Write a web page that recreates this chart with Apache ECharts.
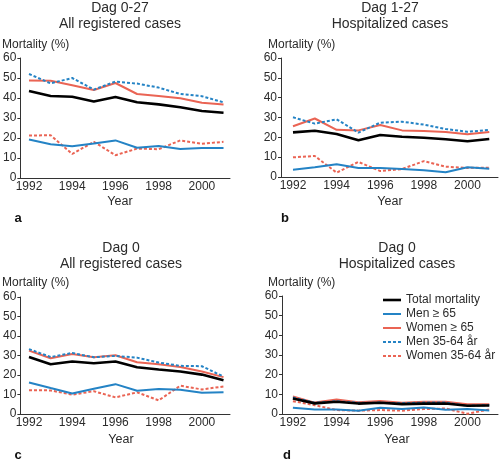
<!DOCTYPE html>
<html><head><meta charset="utf-8">
<script src="https://cdn.jsdelivr.net/npm/echarts@6/dist/echarts.min.js"></script>
<style>html,body{margin:0;padding:0;background:#fff}#c{width:500px;height:462px}</style>
</head><body><div id="c"></div>
<script>
const years = [1992,1993,1994,1995,1996,1997,1998,1999,2000,2001];
const xTickLabels = [1992,1994,1996,1998,2000];
const yTicks = [0,10,20,30,40,50,60];
const seriesNames = ['Total mortality','Men \u2265 65','Women \u2265 65','Men 35-64 år','Women 35-64 år'];
const panelTitles = [['Dag 0-27','All registered cases'],['Dag 1-27','Hospitalized cases'],['Dag 0','All registered cases'],['Dag 0','Hospitalized cases']];
const panelLetters = ['a','b','c','d'];

// Panel a: Dag 0-27, all registered cases
const aTotal = [43.5,41,40.6,38.3,40.5,37.9,36.8,35.4,33.5,32.6];
const aMen65 = [19.3,16.9,15.9,17.2,18.8,15.1,16.0,14.5,15.0,15.0];
const aWomen65 = [48.7,48.6,46.4,44.0,47.5,42.0,41.0,39.9,37.6,36.8];
const aMen3564 = [52.0,47.3,50.0,44.2,48.2,47.2,45.2,42.0,40.9,37.8];
const aWomen3564 = [21.2,21.4,12.0,18.1,11.4,14.7,14.4,18.8,17.1,18.1];

// Panel b: Dag 1-27, hospitalized cases
const bTotal = [22.5,23.3,21.7,18.5,21.2,20.3,19.8,19.0,18.0,19.2];
const bMen65 = [3.7,4.9,6.4,4.5,4.5,4.0,3.4,2.4,4.9,4.1];
const bWomen65 = [25.6,29.5,23.8,23.5,26.2,23.5,23.2,22.7,21.5,22.7];
const bMen3564 = [30.1,26.9,29.1,22.4,27.4,27.9,26.4,24.2,22.8,23.7];
const bWomen3564 = [9.9,10.6,2.2,7.6,3.0,4.0,8.0,5.2,4.6,4.7];

// Panel c: Dag 0, all registered cases
const cTotal = [29.2,25.5,26.9,26.0,26.9,24.0,22.8,21.8,20.2,17.3];
const cMen65 = [16.2,13.3,10.5,12.9,15.3,11.9,12.8,12.4,10.9,11.2];
const cWomen65 = [32.5,28.6,30.8,29.1,30.1,26.5,25.5,24.1,21.8,18.9];
const cMen3564 = [33.3,29.2,31.3,29.1,29.8,28.9,26.4,24.7,24.5,19.2];
const cWomen3564 = [12.2,12.1,9.9,11.7,8.5,11.1,7.0,14.5,12.6,14.1];

// Panel d: Dag 0, hospitalized cases
const dTotal = [7.9,5.4,6.2,5.3,5.7,5.0,5.3,5.3,4.2,4.3];
const dMen65 = [3.2,2.3,2.3,1.7,3.2,2.5,3.3,2.2,2.5,1.8];
const dWomen65 = [8.9,5.8,7.4,6.0,6.6,5.7,6.2,6.2,4.9,4.9];
const dMen3564 = [8.4,5.7,6.5,5.7,5.8,5.5,5.8,5.8,4.2,4.5];
const dWomen3564 = [6.5,4.5,2.0,1.7,2.0,1.7,2.5,2.8,0.1,2.3];

const panels = [
  [aTotal,aMen65,aWomen65,aMen3564,aWomen3564],
  [bTotal,bMen65,bWomen65,bMen3564,bWomen3564],
  [cTotal,cMen65,cWomen65,cMen3564,cWomen3564],
  [dTotal,dMen65,dWomen65,dMen3564,dWomen3564]
];

const FONT = "'Liberation Sans', Arial, sans-serif";
const TXT = '#2b2b2b';
const BLUE = '#2483c5';
const RED = '#ea6454';
const styles = [
  {color:'#000', type:'solid', width:2.6, z:5},
  {color:BLUE, type:'solid', width:2, z:3},
  {color:RED, type:'solid', width:2, z:3},
  {color:BLUE, type:[3,2], width:2, z:4},
  {color:RED, type:[3,2], width:2, z:2}
];

const geo = [
  {left:16, top:58, w:214, h:120, xmin:1991.6, xmax:2001.3, cx:120, ty:8, my:45, yy:202, ly:218, lx:18, mx:2},
  {left:281, top:58, w:217, h:119, xmin:1991.45, xmax:2001.4, cx:390, ty:8, my:45, yy:202, ly:218, lx:285, mx:268},
  {left:15, top:297, w:215, h:117, xmin:1991.6, xmax:2001.3, cx:121, ty:248, my:283, yy:440, ly:455, lx:18, mx:2},
  {left:282, top:296, w:216, h:118, xmin:1991.5, xmax:2001.4, cx:397, ty:248, my:283, yy:440, ly:455, lx:287, mx:268}
];

const grid = [], xAxis = [], yAxis = [], series = [], graphic = [];
geo.forEach((g,i)=>{
  grid.push({left:g.left, top:g.top, width:g.w, height:g.h, containLabel:false});
  xAxis.push({type:'value', gridIndex:i, min:g.xmin, max:g.xmax,
    axisLine:{show:true, lineStyle:{color:'#333', width:1}},
    axisTick:{show:false},
    splitLine:{show:false},
    axisLabel:{customValues:xTickLabels, color:TXT, fontFamily:FONT, fontSize:12, margin:3, formatter:v=>String(v)}
  });
  yAxis.push({type:'value', gridIndex:i, min:0, max:60, interval:10,
    axisLine:{show:true, lineStyle:{color:'#333', width:1}},
    axisTick:{show:true, length:3, lineStyle:{color:'#333'}},
    splitLine:{show:false},
    axisLabel:{color:TXT, fontFamily:FONT, fontSize:12, margin:4}
  });
  const order = [4,1,2,3,0];
  order.forEach(k=>{
    const s = styles[k];
    series.push({type:'line', name:seriesNames[k], xAxisIndex:i, yAxisIndex:i,
      data: years.map((y,j)=>[y, panels[i][k][j]]),
      symbol:'none', z:s.z, silent:true,
      lineStyle:{color:s.color, width:s.width, type:s.type},
      itemStyle:{color:s.color}
    });
  });
  graphic.push({type:'text', x:g.cx, y:g.ty, style:{text:panelTitles[i][0], fill:TXT, font:'14px '+FONT, textAlign:'center', textVerticalAlign:'middle'}});
  graphic.push({type:'text', x:g.cx, y:g.ty+16, style:{text:panelTitles[i][1], fill:TXT, font:'14px '+FONT, textAlign:'center', textVerticalAlign:'middle'}});
  graphic.push({type:'text', x:g.mx, y:g.my, style:{text:'Mortality (%)', fill:TXT, font:'12px '+FONT, textAlign:'left', textVerticalAlign:'middle'}});
  graphic.push({type:'text', x:g.cx, y:g.yy, style:{text:'Year', fill:TXT, font:'12.5px '+FONT, textAlign:'center', textVerticalAlign:'middle'}});
  graphic.push({type:'text', x:g.lx, y:g.ly, style:{text:panelLetters[i], fill:'#111', font:'bold 13px '+FONT, textAlign:'center', textVerticalAlign:'middle'}});
});

// legend (drawn in panel d)
seriesNames.forEach((n,k)=>{
  const s = styles[k];
  const y = 300 + 14*k;
  graphic.push({type:'line', shape:{x1:383, y1:y, x2:401, y2:y},
    style:{stroke:s.color, lineWidth:s.width, lineDash: s.type==='solid'?null:s.type}});
  graphic.push({type:'text', x:406, y:y, style:{text:n, fill:TXT, font:'12px '+FONT, textAlign:'left', textVerticalAlign:'middle'}});
});

const chart = echarts.init(document.getElementById('c'), null, {renderer:'canvas'});
chart.setOption({
  animation:false,
  backgroundColor:'#fff',
  grid, xAxis, yAxis, series, graphic
});
</script></body></html>
